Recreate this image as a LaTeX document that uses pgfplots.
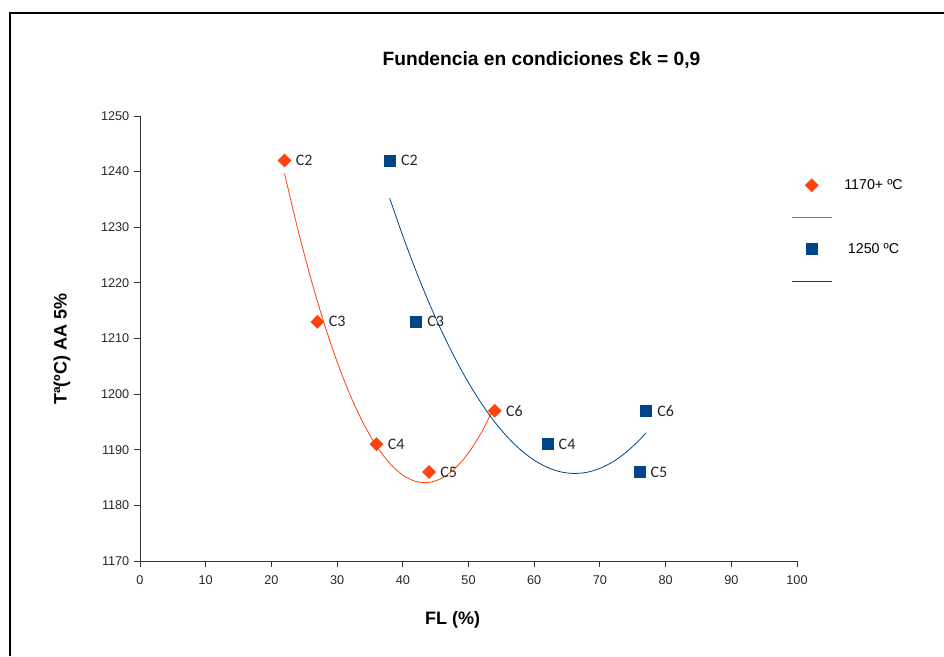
\documentclass[border=0pt]{standalone}
\usepackage{pgfplots}
\pgfplotsset{compat=1.18}
\usepackage{fontspec}
\setmainfont{Liberation Sans}
\newfontfamily\calibri{Carlito}
\definecolor{loblue}{HTML}{004586}
\definecolor{lored}{HTML}{FF420E}
\pgfplotsset{
  point legend/.style={legend image code/.code={\draw[##1] plot coordinates {(15pt,0pt)};}},
  trend legend/.style={legend image code/.code={\draw[color=#1, line width=0.75pt] (0pt,0pt) -- (30pt,0pt);}},
}

\begin{document}
\begin{tikzpicture}
\useasboundingbox (0,0) rectangle (708pt,492pt);
% page frame
\draw[line width=1.1pt] (7.5pt,0) -- (7.5pt,482.25pt) -- (708pt,482.25pt);
\begin{axis}[
  at={(105pt,71.25pt)}, anchor=south west,
  scale only axis, width=492.75pt, height=333.75pt,
  xmin=0, xmax=100, ymin=1170, ymax=1250,
  xtick distance=10, ytick distance=10,
  axis x line=bottom, axis y line=left,
  axis line style={-, black!80, line width=0.75pt},
  tick align=outside, major tick length=4.5pt,
  tick style={black!80, line width=0.75pt},
  tick label style={font=\fontsize{9.5}{11}\selectfont, text=black!85},
  xticklabel style={yshift=-3pt},
  /pgf/number format/assume math mode=true,
  /pgf/number format/set thousands separator={},
  title={Fundencia en condiciones Ɛk = 0,9},
  title style={at={(axis description cs:0.611,1.1075)}, anchor=center,
    font=\bfseries\fontsize{14.4}{17}\selectfont},
  xlabel={FL (\%)},
  xlabel style={at={(axis description cs:0.476,-0.1326)}, anchor=center,
    font=\bfseries\fontsize{13.5}{16}\selectfont},
  ylabel={Tª(ºC) AA 5\%},
  ylabel style={at={(axis description cs:-0.1187,0.476)}, anchor=center, rotate=0,
    font=\bfseries\fontsize{13.5}{16}\selectfont},
  legend style={draw=none, fill=none, at={(axis description cs:0.9909,0.881)},
    anchor=north west, inner sep=0pt, row sep=0pt, column sep=6pt,
    font=\fontsize{10.7}{12}\selectfont,
    nodes={minimum height=24pt, inner sep=3pt}},
  legend cell align=center,
]
% 1170+ measurements
\addplot[only marks, mark=square*, mark size=3.45pt,
  mark options={rotate=45, fill=lored, draw=lored},
  nodes near coords, point meta=explicit symbolic,
  nodes near coords align={anchor=west},
  every node near coord/.append style={font=\calibri\fontsize{12}{14}\selectfont, text=black!85, xshift=5pt},
  point legend]
  coordinates {(22,1242) [C2] (27,1213) [C3] (36,1191) [C4] (44,1186) [C5] (54,1197) [C6]};
\addlegendentry{1170+ ºC}
% 1170+ quadratic trend
\addplot[color=lored, line width=0.6pt, smooth, no marks, trend legend=lored]
  coordinates {(22,1239.67) (24,1229.74) (26,1220.79) (28,1212.82) (30,1205.82)
    (32,1199.79) (34,1194.74) (36,1190.67) (38,1187.57) (40,1185.44) (42,1184.29)
    (44,1184.12) (46,1184.92) (48,1186.69) (50,1189.44) (52,1193.17) (54,1197.86)};
\addlegendentry{}
% 1250 measurements
\addplot[only marks, mark=square*, mark size=4.1pt,
  mark options={fill=loblue, draw=loblue},
  nodes near coords, point meta=explicit symbolic,
  nodes near coords align={anchor=west},
  every node near coord/.append style={font=\calibri\fontsize{12}{14}\selectfont, text=black!85, xshift=5pt},
  point legend]
  coordinates {(38,1242) [C2] (42,1213) [C3] (62,1191) [C4] (76,1186) [C5] (77,1197) [C6]};
\addlegendentry{1250 ºC}
% 1250 quadratic trend
\addplot[color=loblue, line width=0.6pt, smooth, no marks, trend legend=loblue]
  coordinates {(38,1235.23) (40,1228.45) (42,1222.17) (44,1216.40) (46,1211.12)
    (48,1206.34) (50,1202.05) (52,1198.27) (54,1194.98) (56,1192.20) (58,1189.91)
    (60,1188.12) (62,1186.83) (64,1186.03) (66,1185.74) (68,1185.94) (70,1186.65)
    (72,1187.85) (74,1189.55) (76,1191.74) (77,1193.03)};
\addlegendentry{}
\end{axis}
\end{tikzpicture}
\end{document}
